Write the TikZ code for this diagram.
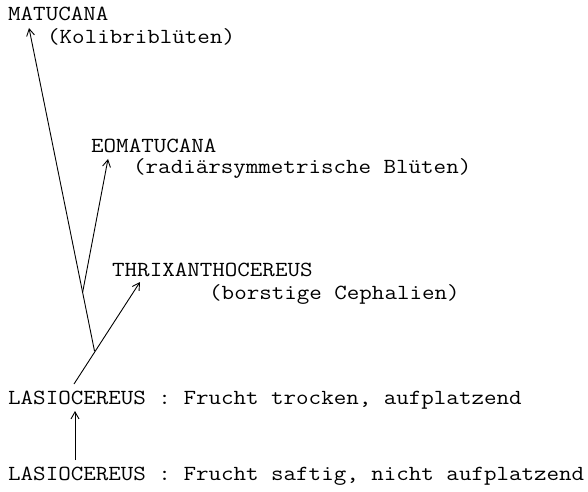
\documentclass[tikz,border=0pt]{standalone}
\usepackage{fontspec}
\usetikzlibrary{arrows.meta}
\newfontfamily\monofam[FakeStretch=1.13]{Latin Modern Mono}
\begin{document}
\begin{tikzpicture}[x=1bp,y=-1bp,
  label/.style={anchor=base west,inner sep=0pt,text height=14bp,text depth=3bp,
    font=\monofam\fontsize{21.6}{24}\selectfont},
  branch/.style={line width=0.9bp,-{Straight Barb[length=7bp,width=8bp,line width=0.9bp]}}]
\useasboundingbox (0,0) rectangle (588,492);

% taxon labels
\node[label] (mat)  at (8,21)   {MATUCANA};
\node[label] (matN) at (47,44)  {(Kolibriblüten)};
\node[label] (eom)  at (91,153) {EOMATUCANA};
\node[label] (eomN) at (133,174) {(radiärsymmetrische Blüten)};
\node[label] (thr)  at (112,276) {THRIXANTHOCEREUS};
\node[label] (thrN) at (209,299) {(borstige Cephalien)};
\node[label] (lasA) at (8,404)  {LASIOCEREUS : Frucht trocken, aufplatzend};
\node[label] (lasB) at (8,480)  {LASIOCEREUS : Frucht saftig, nicht aufplatzend};

% branch points and arrow tips
\coordinate (root)  at (74,384);
\coordinate (thrT)  at (140,282);
\coordinate (j1)    at (94.5,351);
\coordinate (matT)  at (29,28);
\coordinate (j2)    at (82.7,292);
\coordinate (eomT)  at (108,159);
\coordinate (lasBT) at (75,460);
\coordinate (lasAT) at (75,411);

% tree
\draw[branch] (root) -- (thrT);
\draw[branch] (j1) -- (matT);
\draw[branch] (j2) -- (eomT);
\draw[branch] (lasBT) -- (lasAT);
\end{tikzpicture}
\end{document}
